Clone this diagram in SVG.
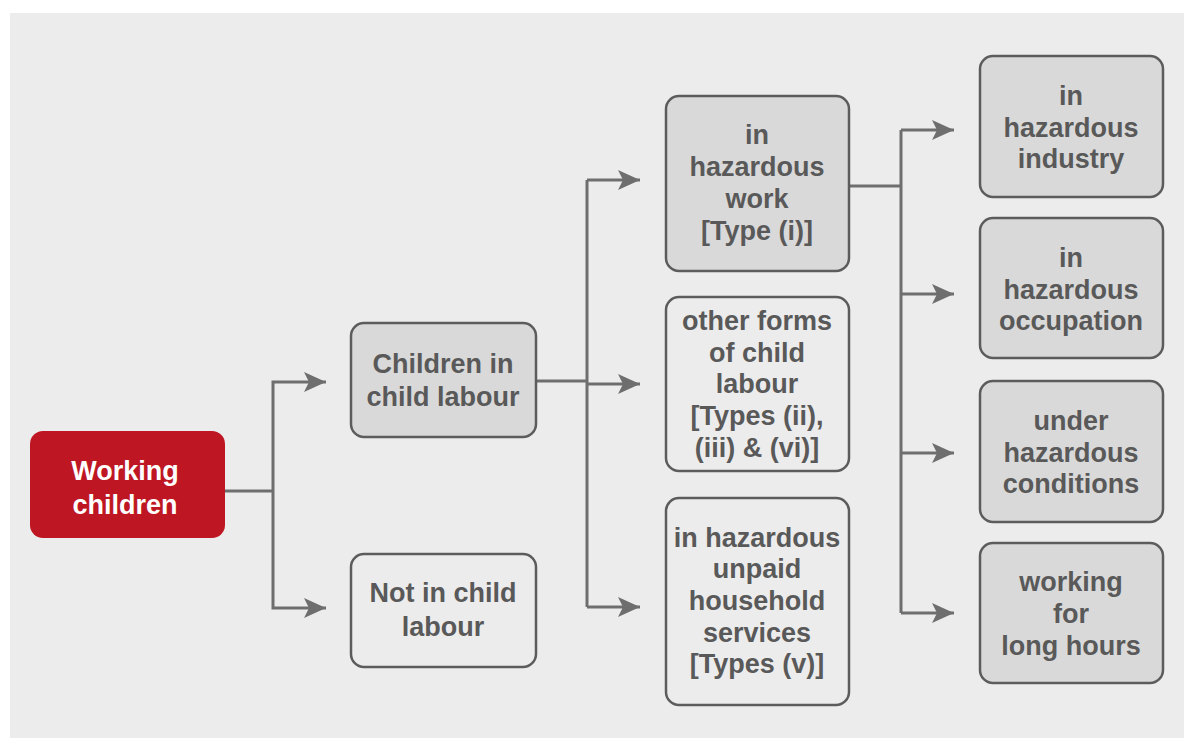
<svg xmlns="http://www.w3.org/2000/svg" width="1184" height="738" viewBox="0 0 1184 738">
<style>
.box{fill:#d9d9d9;stroke:#5c5c5c;stroke-width:2.5}
.open{fill:#ececec;stroke:#5c5c5c;stroke-width:2.5}
.t{font-family:"Liberation Sans",Arial,sans-serif;font-weight:bold;font-size:27px;fill:#595959;text-anchor:middle}
.w{fill:#ffffff}
.c{fill:none;stroke:#6e6e6e;stroke-width:3}
</style>
<defs>
<marker id="ah" markerUnits="userSpaceOnUse" markerWidth="24" markerHeight="22" refX="22" refY="10" orient="auto">
<path d="M0,0 L22,10 L0,20 L5,10 Z" fill="#6e6e6e"/>
</marker>
</defs>
<rect x="0" y="0" width="1184" height="738" fill="#ffffff"/>
<rect x="10" y="13" width="1174" height="725" fill="#ececec"/>
<g id="connectors">
<path class="c" d="M225,491 H273"/>
<path class="c" d="M273,491 V382 H326" marker-end="url(#ah)"/>
<path class="c" d="M273,491 V608 H326" marker-end="url(#ah)"/>
<path class="c" d="M536,381 H587"/>
<path class="c" d="M587,180 V607"/>
<path class="c" d="M587,180 H640" marker-end="url(#ah)"/>
<path class="c" d="M587,384 H640" marker-end="url(#ah)"/>
<path class="c" d="M587,607 H640" marker-end="url(#ah)"/>
<path class="c" d="M849,186 H901"/>
<path class="c" d="M901,130 V613"/>
<path class="c" d="M901,130 H954" marker-end="url(#ah)"/>
<path class="c" d="M901,294 H954" marker-end="url(#ah)"/>
<path class="c" d="M901,453 H954" marker-end="url(#ah)"/>
<path class="c" d="M901,613 H954" marker-end="url(#ah)"/>
</g>
<g id="working-children">
<rect x="30" y="431" width="195" height="107" rx="13" fill="#be1622"/>
<text class="t w" x="125" y="480">Working</text>
<text class="t w" x="125" y="514">children</text>
</g>
<g id="in-child-labour">
<rect class="box" x="351" y="323" width="185" height="114" rx="13"/>
<text class="t" x="443" y="373">Children in</text>
<text class="t" x="443" y="406">child labour</text>
</g>
<g id="not-in-child-labour">
<rect class="open" x="351" y="554" width="185" height="113" rx="13"/>
<text class="t" x="443" y="602">Not in child</text>
<text class="t" x="443" y="636">labour</text>
</g>
<g id="hazardous-work">
<rect class="box" x="666" y="96" width="183" height="175" rx="13"/>
<text class="t" x="757" y="144">in</text>
<text class="t" x="757" y="176">hazardous</text>
<text class="t" x="757" y="208">work</text>
<text class="t" x="757" y="240">[Type (i)]</text>
</g>
<g id="other-forms">
<rect class="open" x="666" y="297" width="183" height="174" rx="13"/>
<text class="t" x="757" y="330">other forms</text>
<text class="t" x="757" y="362">of child</text>
<text class="t" x="757" y="393">labour</text>
<text class="t" x="757" y="425">[Types (ii),</text>
<text class="t" x="757" y="457">(iii) &amp; (vi)]</text>
</g>
<g id="household-services">
<rect class="open" x="666" y="498" width="183" height="207" rx="13"/>
<text class="t" x="757" y="547">in hazardous</text>
<text class="t" x="757" y="578">unpaid</text>
<text class="t" x="757" y="610">household</text>
<text class="t" x="757" y="642">services</text>
<text class="t" x="757" y="673">[Types (v)]</text>
</g>
<g id="hazardous-industry">
<rect class="box" x="980" y="56" width="183" height="141" rx="13"/>
<text class="t" x="1071" y="105">in</text>
<text class="t" x="1071" y="137">hazardous</text>
<text class="t" x="1071" y="168">industry</text>
</g>
<g id="hazardous-occupation">
<rect class="box" x="980" y="218" width="183" height="140" rx="13"/>
<text class="t" x="1071" y="267">in</text>
<text class="t" x="1071" y="299">hazardous</text>
<text class="t" x="1071" y="330">occupation</text>
</g>
<g id="hazardous-conditions">
<rect class="box" x="980" y="381" width="183" height="141" rx="13"/>
<text class="t" x="1071" y="430">under</text>
<text class="t" x="1071" y="462">hazardous</text>
<text class="t" x="1071" y="493">conditions</text>
</g>
<g id="long-hours">
<rect class="box" x="980" y="543" width="183" height="140" rx="13"/>
<text class="t" x="1071" y="591">working</text>
<text class="t" x="1071" y="623">for</text>
<text class="t" x="1071" y="655">long hours</text>
</g>
</svg>
